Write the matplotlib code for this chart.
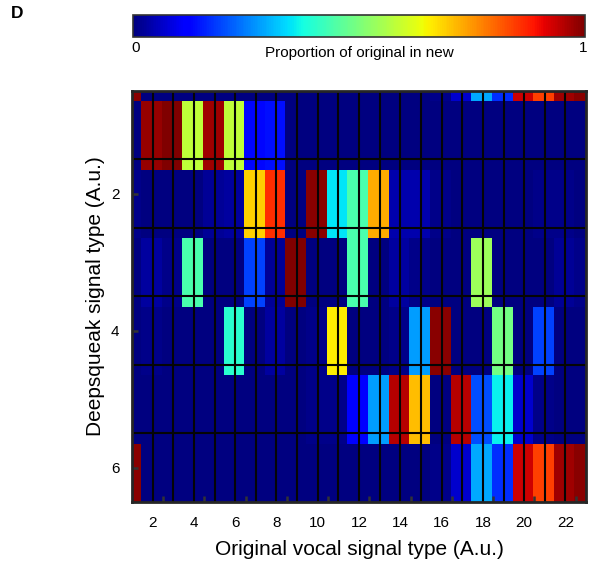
import numpy as np
import matplotlib
matplotlib.use("Agg")
import matplotlib.pyplot as plt

plt.rcParams["font.family"] = ["Liberation Sans", "DejaVu Sans"]

# ---------------- Data ----------------
# proportion of each original vocal type (columns 1..23) found in each
# Deepsqueak type (rows 1..6)
orig_types = np.arange(1, 24)
ds_types = np.arange(1, 7)

row1 = [0.00, 0.98, 1.00, 0.58, 0.97, 0.58, 0.13, 0.14, 0.00, 0.00, 0.00, 0.00,
        0.00, 0.00, 0.00, 0.00, 0.00, 0.00, 0.00, 0.00, 0.00, 0.00, 0.00]
row2 = [0.01, 0.00, 0.00, 0.00, 0.02, 0.03, 0.69, 0.86, 0.00, 0.99, 0.35, 0.44,
        0.73, 0.04, 0.04, 0.01, 0.00, 0.00, 0.00, 0.00, 0.01, 0.01, 0.00]
row3 = [0.00, 0.03, 0.01, 0.44, 0.00, 0.00, 0.19, 0.02, 1.00, 0.00, 0.00, 0.44,
        0.00, 0.03, 0.01, 0.00, 0.00, 0.54, 0.00, 0.00, 0.00, 0.02, 0.01]
row4 = [0.00, 0.01, 0.00, 0.00, 0.00, 0.40, 0.00, 0.03, 0.00, 0.01, 0.66, 0.00,
        0.00, 0.01, 0.28, 0.99, 0.00, 0.00, 0.49, 0.00, 0.19, 0.00, 0.00]
row5 = [0.00, 0.00, 0.00, 0.00, 0.00, 0.00, 0.00, 0.00, 0.00, 0.01, 0.01, 0.12,
        0.28, 0.95, 0.71, 0.00, 0.95, 0.20, 0.36, 0.07, 0.01, 0.00, 0.00]
row6 = [0.99, 0.00, 0.00, 0.00, 0.00, 0.00, 0.00, 0.00, 0.00, 0.00, 0.00, 0.00,
        0.00, 0.00, 0.00, 0.01, 0.07, 0.29, 0.17, 0.93, 0.84, 0.97, 0.99]

x_ticks = [2, 4, 6, 8, 10, 12, 14, 16, 18, 20, 22]
y_ticks = [2, 4, 6]

# the rendered image in the source is offset from its grid
# (shifted right/down, last row wrapped to the top)
x_shift = 0.435
y_shift = 0.15

Z = np.array([row6, row1, row2, row3, row4, row5, row6])

x_lo, x_hi = orig_types[0], orig_types[-1]
y_lo, y_hi = ds_types[0] - 0.5, ds_types[-1] + 0.5
xe = np.concatenate([[x_lo], orig_types[:-1] + x_shift, [x_hi]])
ye = np.concatenate([[y_lo], ds_types - 0.5 + y_shift, [y_hi]])

# ---------------- Figure ----------------
fig = plt.figure(figsize=(5.92, 5.64), dpi=100)
ax = fig.add_axes([0.223, 0.110, 0.767, 0.729])

mesh = ax.pcolormesh(xe, ye, Z, cmap="jet", vmin=0, vmax=1, shading="flat")
ax.set_xlim(x_lo, x_hi)
ax.set_ylim(y_hi, y_lo)

for xv in orig_types[1:-1]:
    ax.axvline(xv, color="#050505", lw=1.5)
for yv in ds_types[:-1] + 0.5:
    ax.axhline(yv, color="#050505", lw=1.5)

ax.set_xticks(x_ticks)
ax.set_xticks(np.array(x_ticks) + 0.5, minor=True)
ax.set_yticks(y_ticks)
ax.tick_params(axis="x", which="major", length=0, pad=10, labelsize=11)
ax.tick_params(axis="x", which="minor", direction="in", length=4.5, width=1.8,
               color="#333333")
ax.tick_params(axis="y", which="major", direction="in", length=4.5, width=1.8,
               color="#333333", pad=9, labelsize=11)
for s in ax.spines.values():
    s.set_linewidth(2)
    s.set_color("#262626")

ax.set_xlabel("Original vocal signal type (A.u.)", fontsize=15, labelpad=7)
ax.set_ylabel("Deepsqueak signal type (A.u.)", fontsize=15, labelpad=4)

# ---------------- Colorbar ----------------
cax = fig.add_axes([0.225, 0.934, 0.763, 0.039])
cb = fig.colorbar(mesh, cax=cax, orientation="horizontal")
cb.set_ticks([])
cb.outline.set_linewidth(1.2)
cb.outline.set_edgecolor("#333333")
cax.text(0.005, -0.18, "0", transform=cax.transAxes, ha="center", va="top",
         fontsize=11)
cax.text(0.996, -0.18, "1", transform=cax.transAxes, ha="center", va="top",
         fontsize=11)
cax.text(0.5, -0.42, "Proportion of original in new", transform=cax.transAxes,
         ha="center", va="top", fontsize=11)

fig.text(0.018, 0.976, "D", fontsize=12.5, fontweight="bold", ha="left", va="center")

fig.savefig("out.png", dpi=100)
